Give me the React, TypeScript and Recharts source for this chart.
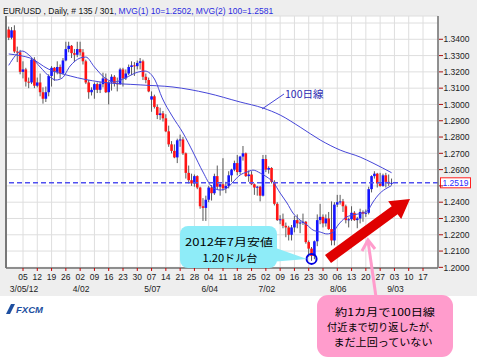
import React from 'react';
import {
  ComposedChart, Bar, Line, XAxis, YAxis, CartesianGrid, ReferenceLine, ReferenceDot,
} from 'recharts';

// ---- daily candles (index 0 = 2/27/12) ----
const opens = [
  1.3460, 1.3410, 1.3455, 1.3325, 1.3320, 1.3200, 1.3215, 1.3140, 1.3135, 1.3275,
  1.3115, 1.3135, 1.3075, 1.3035, 1.3075, 1.3175, 1.3225, 1.3200, 1.3230, 1.3190,
  1.3270, 1.3340, 1.3360, 1.3315, 1.3305, 1.3340, 1.3320, 1.3265, 1.3135, 1.3075,
  1.3090, 1.3125, 1.3090, 1.3125, 1.3160, 1.3075, 1.3135, 1.3170, 1.3130, 1.3125,
  1.3215, 1.3160, 1.3190, 1.3230, 1.3240, 1.3235, 1.3255, 1.3265, 1.3170, 1.3150,
  1.3030, 1.3050, 1.2985, 1.2935, 1.2945, 1.2915, 1.2835, 1.2755, 1.2715, 1.2675,
  1.2780, 1.2785, 1.2700, 1.2580, 1.2535, 1.2515, 1.2560, 1.2490, 1.2375, 1.2365,
  1.2415, 1.2490, 1.2455, 1.2560, 1.2495, 1.2510, 1.2485, 1.2500, 1.2565, 1.2600,
  1.2640, 1.2585, 1.2680, 1.2700, 1.2560, 1.2570, 1.2510, 1.2490, 1.2495, 1.2440,
  1.2665, 1.2600, 1.2610, 1.2525, 1.2390, 1.2290, 1.2295, 1.2255, 1.2245, 1.2200,
  1.2245, 1.2290, 1.2270, 1.2275, 1.2280, 1.2155, 1.2115, 1.2070, 1.2160, 1.2290,
  1.2310, 1.2270, 1.2300, 1.2235, 1.2165, 1.2385, 1.2400, 1.2405, 1.2375, 1.2290,
  1.2295, 1.2335, 1.2290, 1.2300, 1.2340, 1.2330, 1.2335, 1.2480, 1.2560, 1.2575,
  1.2515, 1.2500, 1.2565, 1.2525, 1.2515,
];
const highs = [
  1.3478, 1.3475, 1.3486, 1.3355, 1.3335, 1.3265, 1.3225, 1.3165, 1.3285, 1.3290,
  1.3165, 1.3190, 1.3105, 1.3110, 1.3185, 1.3235, 1.3230, 1.3265, 1.3245, 1.3285,
  1.3385, 1.3385, 1.3365, 1.3340, 1.3385, 1.3385, 1.3340, 1.3275, 1.3150, 1.3105,
  1.3135, 1.3135, 1.3140, 1.3195, 1.3190, 1.3145, 1.3185, 1.3180, 1.3165, 1.3225,
  1.3225, 1.3215, 1.3245, 1.3265, 1.3260, 1.3270, 1.3285, 1.3275, 1.3190, 1.3165,
  1.3080, 1.3060, 1.3000, 1.2980, 1.2960, 1.2940, 1.2870, 1.2775, 1.2755, 1.2790,
  1.2815, 1.2800, 1.2705, 1.2625, 1.2575, 1.2570, 1.2565, 1.2495, 1.2425, 1.2440,
  1.2500, 1.2505, 1.2575, 1.2625, 1.2515, 1.2670, 1.2525, 1.2590, 1.2605, 1.2655,
  1.2690, 1.2685, 1.2745, 1.2705, 1.2595, 1.2590, 1.2515, 1.2500, 1.2500, 1.2690,
  1.2690, 1.2620, 1.2615, 1.2535, 1.2400, 1.2320, 1.2330, 1.2275, 1.2255, 1.2260,
  1.2315, 1.2325, 1.2290, 1.2330, 1.2285, 1.2165, 1.2125, 1.2165, 1.2325, 1.2390,
  1.2325, 1.2325, 1.2340, 1.2405, 1.2400, 1.2445, 1.2445, 1.2420, 1.2385, 1.2305,
  1.2375, 1.2345, 1.2310, 1.2360, 1.2350, 1.2355, 1.2495, 1.2565, 1.2590, 1.2580,
  1.2580, 1.2575, 1.2580, 1.2570, 1.2545,
];
const lows = [
  1.3395, 1.3400, 1.3315, 1.3260, 1.3185, 1.3160, 1.3110, 1.3100, 1.3125, 1.3100,
  1.3105, 1.3050, 1.3005, 1.3015, 1.3050, 1.3110, 1.3145, 1.3185, 1.3160, 1.3185,
  1.3265, 1.3320, 1.3285, 1.3260, 1.3290, 1.3300, 1.3245, 1.3125, 1.3035, 1.3055,
  1.3035, 1.3070, 1.3070, 1.3105, 1.3070, 1.3000, 1.3085, 1.3110, 1.3080, 1.3120,
  1.3110, 1.3150, 1.3180, 1.3180, 1.3175, 1.3215, 1.3215, 1.3150, 1.3130, 1.3075,
  1.2955, 1.2975, 1.2910, 1.2905, 1.2895, 1.2830, 1.2740, 1.2700, 1.2670, 1.2640,
  1.2740, 1.2690, 1.2545, 1.2515, 1.2500, 1.2495, 1.2480, 1.2360, 1.2285, 1.2285,
  1.2400, 1.2410, 1.2445, 1.2480, 1.2440, 1.2470, 1.2455, 1.2485, 1.2525, 1.2590,
  1.2565, 1.2570, 1.2655, 1.2555, 1.2525, 1.2505, 1.2445, 1.2440, 1.2405, 1.2435,
  1.2585, 1.2575, 1.2515, 1.2380, 1.2285, 1.2265, 1.2240, 1.2185, 1.2165, 1.2165,
  1.2215, 1.2240, 1.2210, 1.2260, 1.2145, 1.2065, 1.2040, 1.2050, 1.2130, 1.2265,
  1.2245, 1.2250, 1.2230, 1.2135, 1.2135, 1.2370, 1.2385, 1.2340, 1.2270, 1.2245,
  1.2285, 1.2285, 1.2240, 1.2270, 1.2280, 1.2310, 1.2325, 1.2460, 1.2545, 1.2490,
  1.2495, 1.2495, 1.2490, 1.2500, 1.2505,
];
const closes = [
  1.3410, 1.3455, 1.3325, 1.3320, 1.3200, 1.3215, 1.3140, 1.3135, 1.3275, 1.3115,
  1.3135, 1.3075, 1.3035, 1.3075, 1.3175, 1.3225, 1.3200, 1.3230, 1.3190, 1.3270,
  1.3340, 1.3360, 1.3315, 1.3305, 1.3340, 1.3320, 1.3265, 1.3135, 1.3075, 1.3090,
  1.3125, 1.3090, 1.3125, 1.3160, 1.3075, 1.3135, 1.3170, 1.3130, 1.3125, 1.3215,
  1.3160, 1.3190, 1.3230, 1.3240, 1.3235, 1.3255, 1.3265, 1.3170, 1.3150, 1.3080,
  1.3050, 1.2985, 1.2935, 1.2945, 1.2915, 1.2835, 1.2755, 1.2715, 1.2675, 1.2780,
  1.2785, 1.2700, 1.2580, 1.2535, 1.2515, 1.2560, 1.2490, 1.2375, 1.2365, 1.2415,
  1.2490, 1.2455, 1.2560, 1.2495, 1.2510, 1.2485, 1.2500, 1.2565, 1.2600, 1.2640,
  1.2585, 1.2680, 1.2700, 1.2560, 1.2570, 1.2510, 1.2490, 1.2495, 1.2440, 1.2665,
  1.2600, 1.2610, 1.2525, 1.2390, 1.2290, 1.2295, 1.2255, 1.2245, 1.2200, 1.2245,
  1.2290, 1.2270, 1.2275, 1.2280, 1.2155, 1.2115, 1.2070, 1.2160, 1.2290, 1.2310,
  1.2270, 1.2300, 1.2235, 1.2165, 1.2385, 1.2400, 1.2405, 1.2375, 1.2290, 1.2295,
  1.2335, 1.2290, 1.2300, 1.2340, 1.2330, 1.2335, 1.2480, 1.2560, 1.2575, 1.2515,
  1.2500, 1.2565, 1.2525, 1.2515, 1.2519,
];

// ---- moving averages (index, value) ----
const ma10Idx = [0, 4.7, 7.5, 11, 14.5, 16.5, 18.7, 21.5, 25, 27, 30, 33.7, 37.2, 40.7, 45.3, 47.7, 51.2, 53.7, 57.2, 61, 64.5, 68, 71.2, 74, 76.4, 78.5, 81, 83.4, 85.5, 88, 90.4, 92.5, 95, 97.4, 99.5, 102, 104.4, 106.5, 109, 111.4, 113.5, 115.3, 117.7, 120.2, 123.7, 125.8, 127.5, 130, 132.4, 134];
const ma10Vals = [1.3240, 1.3328, 1.3297, 1.3230, 1.3168, 1.3150, 1.3162, 1.3236, 1.3285, 1.3291, 1.3230, 1.3162, 1.3138, 1.3162, 1.3199, 1.3205, 1.3150, 1.3040, 1.2929, 1.2825, 1.2708, 1.2585, 1.2493, 1.2475, 1.2487, 1.2524, 1.2567, 1.2585, 1.2597, 1.2579, 1.2554, 1.2524, 1.2456, 1.2395, 1.2333, 1.2290, 1.2260, 1.2229, 1.2217, 1.2205, 1.2217, 1.2260, 1.2303, 1.2321, 1.2333, 1.2352, 1.2401, 1.2456, 1.2487, 1.2502];
const ma100Idx = [0, 4, 7.5, 13.8, 21.5, 32, 46, 57.5, 69.4, 81, 89, 95, 102, 109, 116, 123, 127.5, 134];
const ma100Vals = [1.3310, 1.3300, 1.3285, 1.3218, 1.3175, 1.3138, 1.3120, 1.3107, 1.3070, 1.3015, 1.2978, 1.2935, 1.2861, 1.2782, 1.2720, 1.2677, 1.2640, 1.2581];

// ---- axis ticks ----
const weekTickIdx = [5, 10, 15, 20, 25, 30, 35, 40, 45, 50, 55, 60, 65, 70, 75, 80, 85, 90, 95, 100, 105, 110, 115, 120, 125, 130, 135, 140, 145];
const weekTickLabels = ['05', '12', '19', '26', '02', '09', '16', '23', '30', '07', '14', '21', '28', '04', '11', '18', '25', '02', '09', '16', '23', '30', '06', '13', '20', '27', '03', '10', '17'];
const monthTickIdx = [5, 25, 50, 70, 90, 115, 135];
const monthTickLabels = ['3/05/12', '4/02', '5/07', '6/04', '7/02', '8/06', '9/03'];
const yTicks = [1.20, 1.21, 1.22, 1.23, 1.24, 1.25, 1.26, 1.27, 1.28, 1.29, 1.30, 1.31, 1.32, 1.33, 1.34, 1.35];
const lastPrice = 1.2519;
const julyLowIdx = 106;
const julyLowMark = 1.2052;

const candles = opens.map((o, i) => ({
  i, open: o, high: highs[i], low: lows[i], close: closes[i], range: [lows[i], highs[i]],
}));
const ma10Data = ma10Idx.map((i, k) => ({ i, ma10: ma10Vals[k] }));
const ma100Data = ma100Idx.map((i, k) => ({ i, ma100: ma100Vals[k] }));

const AX_FONT = '"Liberation Sans", Arial, sans-serif';
const JP_FONT = '"Noto Sans CJK JP", "Noto Sans", sans-serif';

const Candle = (props: any) => {
  const { x, y, width, height, payload } = props;
  if (x == null || y == null || !payload) return null;
  const { open, close, high, low } = payload;
  const cx = x + width / 2;
  const top = Math.min(y, y + height);
  const h = Math.abs(height);
  const k = high > low ? h / (high - low) : 0;
  const py = (p: number) => top + (high - p) * k;
  const yo = py(open);
  const yc = py(close);
  const up = close >= open;
  const bt = Math.min(yo, yc);
  const bh = Math.max(1, Math.abs(yo - yc));
  return (
    <g>
      <line x1={cx} x2={cx} y1={top} y2={top + h} stroke="#5a5a5a" strokeWidth={1} />
      <rect x={cx - 1.3} y={bt} width={2.6} height={bh} fill={up ? '#1414ff' : '#ff1414'} />
    </g>
  );
};

const XTick = (props: any) => {
  const { x, y, payload } = props;
  const k = weekTickIdx.indexOf(payload.value);
  const m = monthTickIdx.indexOf(payload.value);
  return (
    <g>
      <line x1={x} x2={x} y1={y} y2={y + 3} stroke="#cc0000" strokeWidth={1} />
      <text x={x} y={y + 11.5} textAnchor="middle" fontSize={8.5} fill="#222" fontFamily={AX_FONT}>
        {k >= 0 ? weekTickLabels[k] : ''}
      </text>
      {m >= 0 && (
        <text x={x + 1} y={y + 24} textAnchor="middle" fontSize={8.5} fill="#222" fontFamily={AX_FONT}>
          {monthTickLabels[m]}
        </text>
      )}
    </g>
  );
};

const YTick = (props: any) => {
  const { x, y, payload } = props;
  if (payload.value > 1.345) return null;
  const hidden = Math.abs(payload.value - lastPrice) < 0.004;
  return (
    <g>
      <line x1={x + 1} x2={x + 5} y1={y} y2={y} stroke="#aa1010" strokeWidth={1} />
      {!hidden && (
        <text x={x + 5.5} y={y + 3.2} fontSize={8.5} fill="#222" fontFamily={AX_FONT}>
          {payload.value.toFixed(4)}
        </text>
      )}
    </g>
  );
};

const PriceLabel = (props: any) => {
  const vb = props.viewBox || {};
  const x0 = (vb.x || 0) + (vb.width || 0) + 2.5;
  const y0 = vb.y || 0;
  return (
    <g>
      <rect x={x0} y={y0 - 5} width={30} height={10} fill="#ffffff" stroke="#ff2020" strokeWidth={1} />
      <text x={x0 + 2} y={y0 + 3.3} fontSize={8.5} fill="#2a2aff" fontFamily={AX_FONT}>
        {lastPrice.toFixed(4)}
      </text>
    </g>
  );
};

function arrowPoints(tx: number, ty: number, px: number, py: number, sh: number, hl: number, hh: number) {
  const dx = px - tx, dy = py - ty;
  const L = Math.hypot(dx, dy);
  const ux = dx / L, uy = dy / L;
  const nx = -uy, ny = ux;
  const bx = px - ux * hl, by = py - uy * hl;
  const pts = [
    [tx + nx * sh, ty + ny * sh],
    [bx + nx * sh, by + ny * sh],
    [bx + nx * hh, by + ny * hh],
    [px, py],
    [bx - nx * hh, by - ny * hh],
    [bx - nx * sh, by - ny * sh],
    [tx - nx * sh, ty - ny * sh],
  ];
  return pts.map((p) => p.map((v) => v.toFixed(1)).join(',')).join(' ');
}

export default function App() {
  return (
    <div style={{ position: 'absolute', left: 0, top: 0, width: 477, height: 360, background: '#ffffff', overflow: 'hidden' }}>
      <div style={{ position: 'absolute', left: 0, top: 0, width: 477, height: 296, background: '#eeeeee' }} />
      <div style={{ position: 'absolute', left: 0, top: 0 }}>
        <ComposedChart width={477} height={360} data={candles} margin={{ top: 16, right: 0, bottom: 62, left: 6 }}>
          <CartesianGrid stroke="#dedede" fill="#ffffff" />
          <XAxis
            dataKey="i" type="number" domain={[-0.95, 150.25]} ticks={weekTickIdx} interval={0}
            allowDataOverflow height={30} tickSize={0} tickMargin={0} tickLine={false}
            axisLine={{ stroke: '#707070', strokeWidth: 1.5 }} tick={<XTick />}
          />
          <YAxis
            orientation="right" type="number" domain={[1.1996, 1.3543]} ticks={yTicks} interval={0}
            allowDataOverflow width={39} tickSize={0} tickMargin={0} tickLine={false}
            axisLine={{ stroke: '#707070', strokeWidth: 1.5 }} tick={<YTick />}
          />
          <ReferenceLine x={-0.95} stroke="#777777" strokeWidth={2} />
          <Bar dataKey="range" barSize={3} shape={<Candle />} isAnimationActive={false} />
          <Line data={ma100Data} dataKey="ma100" type="monotone" stroke="#4646d8" strokeWidth={1} dot={false} isAnimationActive={false} />
          <Line data={ma10Data} dataKey="ma10" type="monotone" stroke="#4646d8" strokeWidth={1} dot={false} isAnimationActive={false} />
          <ReferenceLine y={lastPrice} stroke="#5050f0" strokeDasharray="5 3" strokeWidth={1.5} label={<PriceLabel />} />
          <ReferenceDot x={julyLowIdx} y={julyLowMark} r={5} fill="none" stroke="#0000e0" strokeWidth={2} />
        </ComposedChart>
      </div>
      <svg width={477} height={360} style={{ position: 'absolute', left: 0, top: 0, pointerEvents: 'none' }}>
        {/* header */}
        <text x={3} y={14} fontSize={8.5} fontFamily={AX_FONT} fill="#111">
          EUR/USD , Daily, # 135 / 301
          <tspan fill="#2a2ae0">, MVG(1) 10=1.2502, MVG(2) 100=1.2581</tspan>
        </text>
        {/* 100-day label */}
        <line x1={262} y1={109} x2={284} y2={94} stroke="#4646d8" strokeWidth={1} />
        <text x={285} y={98} fontSize={10.5} fontFamily={JP_FONT} fill="#2a2ab0">100日線</text>
        {/* red arrow */}
        <polygon points={arrowPoints(328, 259, 410, 199, 5, 19, 11)} fill="#e00000" />
        {/* cyan callout */}
        <polygon points="270,246 307,259 270,262" fill="#8eecf8" />
        <rect x={180} y={226} width={97} height={42} rx={8} fill="#8eecf8" />
        <text x={229} y={246} textAnchor="middle" fontSize={10.3} fontFamily={JP_FONT} fill="#000" textLength={88} lengthAdjust="spacingAndGlyphs">2012年7月安値</text>
        <text x={230} y={261.5} textAnchor="middle" fontSize={10.3} fontFamily={JP_FONT} fill="#000" textLength={55} lengthAdjust="spacingAndGlyphs">1.20ドル台</text>
        {/* pink callout */}
        <polyline points="376,297 368,241" fill="none" stroke="#ff9ccc" strokeWidth={3} />
        <polyline points="362,251 368,240 375,249" fill="none" stroke="#ff9ccc" strokeWidth={3} strokeLinejoin="miter" />
        <rect x={317} y={295} width={136} height={62} rx={11} fill="#ff9ccc" />
        <text x={385} y={315.5} textAnchor="middle" fontSize={10.3} fontFamily={JP_FONT} fill="#000" textLength={100} lengthAdjust="spacingAndGlyphs">約1カ月で100日線</text>
        <text x={383} y={330.5} textAnchor="middle" fontSize={10.3} fontFamily={JP_FONT} fill="#000" textLength={112} lengthAdjust="spacingAndGlyphs">付近まで切り返したが、</text>
        <text x={383} y={345.5} textAnchor="middle" fontSize={10.3} fontFamily={JP_FONT} fill="#000" textLength={99} lengthAdjust="spacingAndGlyphs">まだ上回っていない</text>
        {/* FXCM logo */}
        <path d="M6,314 L11,304 L15,304 L10,314 Z" fill="#1e4fa0" />
        <text x={16} y={313} fontSize={9.5} fontWeight="bold" fontStyle="italic" fontFamily={AX_FONT} fill="#1e4fa0">FXCM</text>
      </svg>
    </div>
  );
}
